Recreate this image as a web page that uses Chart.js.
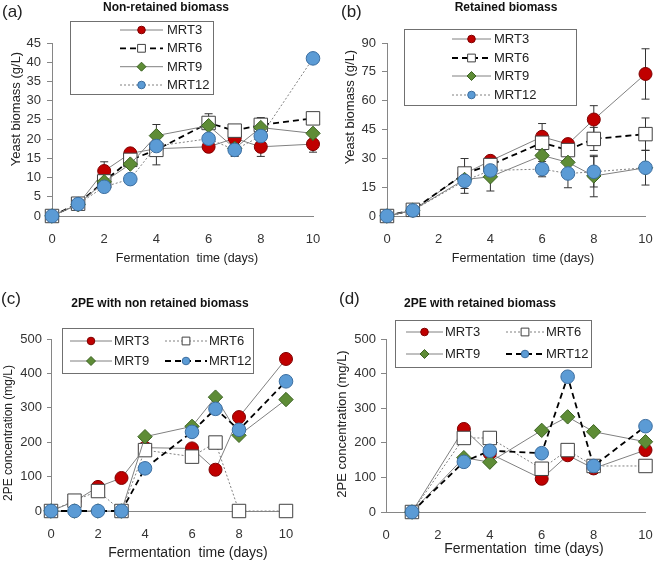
<!DOCTYPE html>
<html><head><meta charset="utf-8">
<script src="https://cdn.jsdelivr.net/npm/chart.js@4.4.1/dist/chart.umd.min.js"></script>
<style>
html,body{margin:0;padding:0;background:#fff;}
#wrap{position:relative;width:656px;height:561px;overflow:hidden;font-family:"Liberation Sans",Arial,sans-serif;color:#222;}
canvas{position:absolute;}
.t{position:absolute;white-space:nowrap;transform:translate(-50%,-50%);line-height:1;}
.l{position:absolute;white-space:nowrap;transform:translate(0,-50%);line-height:1;font-size:17px;}
.b{font-weight:bold;font-size:12px;color:#111;}
.r{transform:translate(-50%,-50%) rotate(-90deg);}
</style></head><body>
<div id="wrap">
 <canvas id="ca" width="328" height="280" style="left:0;top:0"></canvas>
 <canvas id="cb" width="328" height="280" style="left:328px;top:0"></canvas>
 <canvas id="cc" width="328" height="281" style="left:0;top:280px"></canvas>
 <canvas id="cd" width="328" height="281" style="left:328px;top:280px"></canvas>

 <div class="l" style="left:2px;top:11px">(a)</div>
 <div class="t b" style="left:166px;top:7px">Non-retained biomass</div>
 <div class="t" style="left:187px;top:258px;font-size:12.5px">Fermentation&nbsp; time (days)</div>
 <div class="t r" style="left:15px;top:109px;font-size:13px">Yeast biomass (g/L)</div>

 <div class="l" style="left:341px;top:11px">(b)</div>
 <div class="t b" style="left:506px;top:7px">Retained biomass</div>
 <div class="t" style="left:523px;top:258px;font-size:12.5px">Fermentation&nbsp; time (days)</div>
 <div class="t r" style="left:349px;top:107px;font-size:13px">Yeast biomass (g/L)</div>

 <div class="l" style="left:1px;top:298px">(c)</div>
 <div class="t b" style="left:160px;top:303px">2PE with non retained biomass</div>
 <div class="t" style="left:188px;top:552px;font-size:14px">Fermentation&nbsp; time (days)</div>
 <div class="t r" style="left:8px;top:433px;font-size:12px">2PE concentration (mg/L)</div>

 <div class="l" style="left:339px;top:298px">(d)</div>
 <div class="t b" style="left:480px;top:303px">2PE with retained biomass</div>
 <div class="t" style="left:524px;top:548px;font-size:14px">Fermentation&nbsp; time (days)</div>
 <div class="t r" style="left:341px;top:424px;font-size:13px">2PE concentration (mg/L)</div>
</div>
<script>
// ---------------- DATA ----------------
const seriesNames = ["MRT3", "MRT6", "MRT9", "MRT12"];

// (a) Non-retained biomass, yeast biomass g/L
const daysA = [0, 1, 2, 3, 4, 6, 7, 8, 10];
const a_MRT3  = [0, 3.0, 11.7, 16.3, 17.5, 18.0, 20.2, 18.0, 18.7];
const a_MRT6  = [0, 3.2, 9.0, 14.6, 17.2, 24.2, 22.2, 23.7, 25.4];
const a_MRT9  = [0, 3.0, 8.9, 13.5, 20.9, 23.5, 17.6, 23.0, 21.5];
const a_MRT12 = [0, 3.1, 7.6, 9.6, 18.2, 20.1, 17.2, 20.8, 41.0];
const a_err3  = [null, null, 2.4, null, null, null, null, 2.5, 2.1];
const a_err6  = [null, null, null, null, 3.9, null, null, 1.9, 1.3];
const a_err9  = [null, null, null, null, 2.9, 3.1, null, null, null];
const a_err12 = [null, null, null, null, null, null, 1.7, null, null];
const yTicksA = {max: 45, step: 5};

// (b) Retained biomass, yeast biomass g/L
const daysB = [0, 1, 3, 4, 6, 7, 8, 10];
const b_MRT3  = [0, 2.9, 22.0, 28.7, 41.2, 37.4, 50.2, 73.9];
const b_MRT6  = [0, 3.2, 22.1, 26.5, 38.1, 34.3, 40.1, 42.6];
const b_MRT9  = [0, 3.0, 19.0, 20.4, 31.5, 27.9, 20.8, 25.1];
const b_MRT12 = [0, 2.9, 18.3, 23.7, 24.4, 22.1, 23.0, 25.1];
const b_err3  = [null, null, null, null, 6.9, null, 7.2, 13.1];
const b_err6  = [null, null, 7.8, null, null, null, 6.0, 8.4];
const b_err9  = [null, null, null, 7.4, null, null, 10.8, 9.0];
const b_err12 = [null, null, 6.5, null, 4.0, 7.4, 7.9, null];
const yTicksB = {max: 90, step: 15};

// (c) 2PE with non retained biomass, mg/L
const daysC = [0, 1, 2, 3, 4, 6, 7, 8, 10];
const c_MRT3  = [0, 28, 70, 96, 184, 182, 120, 273, 442];
const c_MRT6  = [0, 30, 58, 0, 177, 158, 199, 0, 0];
const c_MRT9  = [0, 0, 0, 0, 216, 246, 331, 220, 324];
const c_MRT12 = [0, 0, 0, 0, 124, 230, 297, 236, 377];

// (d) 2PE with retained biomass, mg/L
const daysD = [1, 3, 4, 6, 7, 8, 10];
const d_MRT3  = [0, 240, 169, 96, 164, 126, 179];
const d_MRT6  = [0, 214, 214, 125, 179, 133, 133];
const d_MRT9  = [0, 157, 144, 236, 275, 232, 203];
const d_MRT12 = [0, 145, 177, 170, 391, 133, 248];
const yTicksCD = {max: 500, step: 100};

const xTicks = {min: 0, max: 10, step: 2};

// ---------------- STYLES ----------------
const FONT = '"Liberation Sans", Arial, sans-serif';
const AXIS = '#868686';
const GRAY = '#808080';
const mk = {
  red:   {pointStyle: 'circle',  radius: 6.5, bg: '#C00000', bd: '#7f0000'},
  sq:    {pointStyle: 'rect',    radius: 9.5, bg: '#ffffff', bd: '#404040'},
  green: {pointStyle: 'rectRot', radius: 7.2, bg: '#5E8C36', bd: '#3b6322'},
  blue:  {pointStyle: 'circle',  radius: 6.8, bg: '#5B9BD5', bd: '#3C6EA0'}
};
const ln = {
  solid:  {color: GRAY, width: 1, dash: []},
  dashed: {color: '#000', width: 1.8, dash: [6, 4]},
  dotted: {color: GRAY, width: 1, dash: [2, 2]}
};

function ds(label, days, vals, errs, m, l, order) {
  return {
    label, errs, days,
    data: days.map((d, i) => ({x: d, y: vals[i]})),
    borderColor: l.color, borderWidth: l.width, borderDash: l.dash,
    pointStyle: m.pointStyle, pointRadius: m.radius,
    pointBackgroundColor: m.bg, pointBorderColor: m.bd, pointBorderWidth: 1,
    legendRadius: m.pointStyle === 'rect' ? 5.5 : (m.pointStyle === 'rectRot' ? 4.5 : 3.8),
    tension: 0, fill: false, clip: false, order
  };
}

// Error bars drawn through the chart's scales
const errPlugin = {
  id: 'errBars',
  beforeDatasetsDraw(chart) {
    const ctx = chart.ctx, xs = chart.scales.x, ys = chart.scales.y;
    ctx.save();
    ctx.strokeStyle = '#333'; ctx.lineWidth = 1; ctx.setLineDash([]);
    chart.data.datasets.forEach(d => {
      if (!d.errs) return;
      d.errs.forEach((e, i) => {
        if (e == null) return;
        const v = d.data[i].y;
        const x = xs.getPixelForValue(d.days[i]);
        const y1 = ys.getPixelForValue(v + e), y2 = ys.getPixelForValue(Math.max(0, v - e));
        ctx.beginPath();
        ctx.moveTo(x, y1); ctx.lineTo(x, y2);
        ctx.moveTo(x - 4, y1); ctx.lineTo(x + 4, y1);
        ctx.moveTo(x - 4, y2); ctx.lineTo(x + 4, y2);
        ctx.stroke();
      });
    });
    ctx.restore();
  }
};

// Boxed legend drawn inside the chart
const legendPlugin = {
  id: 'boxLegend',
  afterDraw(chart, args, o) {
    if (!o || !o.box) return;
    const ctx = chart.ctx;
    ctx.save();
    ctx.fillStyle = '#fff';
    ctx.strokeStyle = '#707070'; ctx.lineWidth = 1;
    ctx.fillRect(o.box[0], o.box[1], o.box[2], o.box[3]);
    ctx.strokeRect(o.box[0] + 0.5, o.box[1] + 0.5, o.box[2], o.box[3]);
    o.items.forEach(it => {
      const d = chart.data.datasets[it.i];
      ctx.beginPath();
      ctx.strokeStyle = d.borderColor; ctx.lineWidth = d.borderWidth;
      ctx.setLineDash(d.borderDash || []);
      ctx.moveTo(it.x0, it.y); ctx.lineTo(it.x1, it.y); ctx.stroke();
      ctx.setLineDash([]);
      ctx.fillStyle = d.pointBackgroundColor; ctx.strokeStyle = d.pointBorderColor; ctx.lineWidth = 1;
      Chart.helpers.drawPoint(ctx, {pointStyle: d.pointStyle, radius: d.legendRadius, rotation: 0, borderWidth: 1},
        (it.x0 + it.x1) / 2, it.y);
      ctx.fillStyle = '#222';
      ctx.font = (o.fontSize || 13) + 'px ' + FONT;
      ctx.textBaseline = 'middle'; ctx.textAlign = 'left';
      ctx.fillText(d.label, it.tx, it.y + 0.5);
    });
    ctx.restore();
  }
};

function makeChart(id, datasets, c) {
  new Chart(document.getElementById(id), {
    type: 'line',
    data: {datasets},
    options: {
      responsive: false, animation: false, events: [],
      layout: {padding: {left: 0, top: c.T, right: c.R, bottom: c.B}},
      plugins: {legend: {display: false}, tooltip: {enabled: false}, boxLegend: c.legend},
      scales: {
        x: {
          type: 'linear', min: xTicks.min, max: xTicks.max,
          ticks: {stepSize: xTicks.step, padding: 8, color: '#333', font: {size: 13, family: FONT}},
          grid: {display: false},
          border: {display: true, color: AXIS, width: 1},
          afterFit: s => { s.height = 30; s.paddingLeft = 0; s.paddingRight = 0; }
        },
        y: {
          type: 'linear', min: 0, max: c.y.max,
          ticks: {stepSize: c.y.step, padding: c.yPad, color: '#333', font: {size: 13, family: FONT}},
          grid: {drawOnChartArea: false, drawTicks: true, tickLength: c.tl, color: AXIS},
          border: {display: true, color: AXIS, width: 1},
          afterFit: s => { s.width = c.L; s.paddingTop = 0; s.paddingBottom = 0; }
        }
      }
    },
    plugins: [errPlugin, legendPlugin]
  });
}

// (a)
makeChart('ca', [
  ds(seriesNames[0], daysA, a_MRT3, a_err3, mk.red, ln.solid, 3),
  ds(seriesNames[1], daysA, a_MRT6, a_err6, mk.sq, ln.dashed, 2),
  ds(seriesNames[2], daysA, a_MRT9, a_err9, mk.green, ln.solid, 1),
  ds(seriesNames[3], daysA, a_MRT12, a_err12, mk.blue, ln.dotted, 0)
], {L: 52, T: 43, R: 15, B: 34, tl: 5, yPad: 6, y: yTicksA,
    legend: {box: [70, 21, 143, 73], items: [
      {i: 0, x0: 120, x1: 163, tx: 167, y: 30},
      {i: 1, x0: 120, x1: 163, tx: 167, y: 48.3},
      {i: 2, x0: 120, x1: 163, tx: 167, y: 66.7},
      {i: 3, x0: 120, x1: 163, tx: 167, y: 85}]}});

// (b)
makeChart('cb', [
  ds(seriesNames[0], daysB, b_MRT3, b_err3, mk.red, ln.solid, 3),
  ds(seriesNames[1], daysB, b_MRT6, b_err6, mk.sq, ln.dashed, 2),
  ds(seriesNames[2], daysB, b_MRT9, b_err9, mk.green, ln.solid, 1),
  ds(seriesNames[3], daysB, b_MRT12, b_err12, mk.blue, ln.dotted, 0)
], {L: 59, T: 43, R: 9, B: 34, tl: 5, yPad: 6, y: yTicksB,
    legend: {box: [76, 29, 172, 76], items: [
      {i: 0, x0: 124, x1: 163, tx: 166, y: 39},
      {i: 1, x0: 124, x1: 163, tx: 166, y: 58},
      {i: 2, x0: 124, x1: 163, tx: 166, y: 76},
      {i: 3, x0: 124, x1: 163, tx: 166, y: 95}]}});

// (c)
makeChart('cc', [
  ds(seriesNames[0], daysC, c_MRT3, null, mk.red, ln.solid, 3),
  ds(seriesNames[1], daysC, c_MRT6, null, mk.sq, ln.dotted, 2),
  ds(seriesNames[2], daysC, c_MRT9, null, mk.green, ln.solid, 1),
  ds(seriesNames[3], daysC, c_MRT12, null, mk.blue, ln.dashed, 0)
], {L: 51, T: 59, R: 42, B: 20, tl: 4, yPad: 5, y: yTicksCD,
    legend: {box: [62, 48, 191, 45], items: [
      {i: 0, x0: 70, x1: 112, tx: 114, y: 61},
      {i: 1, x0: 165, x1: 207, tx: 209, y: 61},
      {i: 2, x0: 70, x1: 112, tx: 114, y: 81},
      {i: 3, x0: 165, x1: 207, tx: 209, y: 81}]}});

// (d)
makeChart('cd', [
  ds(seriesNames[0], daysD, d_MRT3, null, mk.red, ln.solid, 3),
  ds(seriesNames[1], daysD, d_MRT6, null, mk.sq, ln.dotted, 2),
  ds(seriesNames[2], daysD, d_MRT9, null, mk.green, ln.solid, 1),
  ds(seriesNames[3], daysD, d_MRT12, null, mk.blue, ln.dashed, 0)
], {L: 58, T: 59, R: 7, B: 19, tl: 5, yPad: 5, y: yTicksCD,
    legend: {box: [67, 40, 196, 47], items: [
      {i: 0, x0: 78, x1: 115, tx: 117, y: 52},
      {i: 1, x0: 178, x1: 216, tx: 218, y: 52},
      {i: 2, x0: 78, x1: 115, tx: 117, y: 74},
      {i: 3, x0: 178, x1: 216, tx: 218, y: 74}]}});
</script>
</body></html>
